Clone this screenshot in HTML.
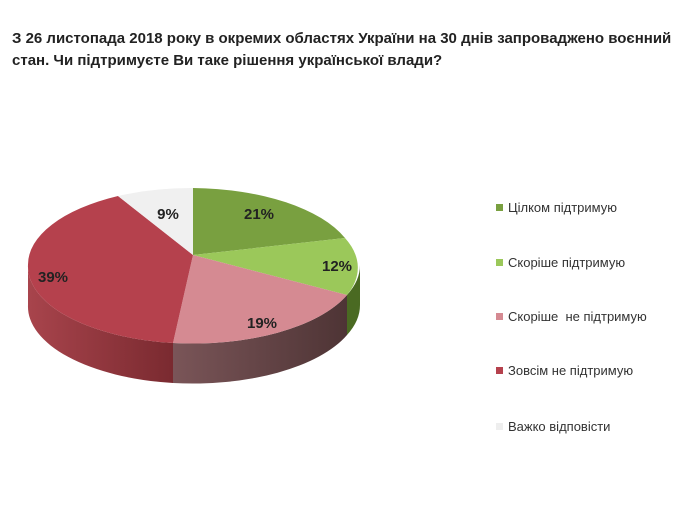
<!DOCTYPE html>
<html><head><meta charset="utf-8"><style>
body{margin:0;width:690px;height:526px;background:#fff;overflow:hidden;font-family:"Liberation Sans",sans-serif}
.t{position:absolute;left:12px;top:28px;font-size:15px;font-weight:bold;color:#222;line-height:22px;width:678px}
.lg{position:absolute;left:496px;font-size:13px;color:#333}
.lg i{display:inline-block;width:7px;height:7px;margin-right:5px;vertical-align:1px}
</style></head><body>
<div class="t">З 26 листопада 2018 року в окремих областях України на 30 днів запроваджено воєнний стан. Чи підтримуєте Ви таке рішення української влади?</div>
<svg width="690" height="526" style="position:absolute;left:0;top:0">
<defs>
<linearGradient id="gr" x1="0" x2="1"><stop offset="0" stop-color="#a8444c"/><stop offset="1" stop-color="#7a2a30"/></linearGradient>
<linearGradient id="gp" x1="0" x2="1"><stop offset="0" stop-color="#7a5558"/><stop offset="1" stop-color="#4e3435"/></linearGradient>
</defs>
<path d="M28,265 A166,77 0 0 0 173,343 L173,383 A166,77 0 0 1 28,305 Z" fill="url(#gr)"/>
<path d="M173,343 A166,77 0 0 0 347,295 L347,335 A166,77 0 0 1 173,383 Z" fill="url(#gp)"/>
<path d="M347,295 A166,77 0 0 0 360,265 L360,305 A166,77 0 0 1 347,335 Z" fill="#4a6a22"/>
<path d="M193,255 L193,188 A166,77 0 0 1 345,238 Z" fill="#79a040"/>
<path d="M193,255 L345,238 A166,77 0 0 1 347,295 Z" fill="#9bc85a"/>
<path d="M193,255 L347,295 A166,77 0 0 1 173,343 Z" fill="#d58a92"/>
<path d="M193,255 L173,343 A166,77 0 0 1 28,265 A166,77 0 0 1 118,196 Z" fill="#b5414d"/>
<path d="M193,255 L118,196 A166,77 0 0 1 193,188 Z" fill="#f0f0f0"/>
<g font-family="Liberation Sans" font-weight="bold" font-size="15" fill="#222" text-anchor="middle">
<text x="259" y="219">21%</text><text x="337" y="271">12%</text><text x="262" y="328">19%</text><text x="53" y="282">39%</text><text x="168" y="219">9%</text>
</g>
</svg>
<div class="lg" style="top:200px"><i style="background:#79a040"></i>Цілком підтримую</div>
<div class="lg" style="top:255px"><i style="background:#9bc85a"></i>Скоріше підтримую</div>
<div class="lg" style="top:309px"><i style="background:#d58a92"></i>Скоріше&nbsp; не підтримую</div>
<div class="lg" style="top:363px"><i style="background:#b5414d"></i>Зовсім не підтримую</div>
<div class="lg" style="top:419px"><i style="background:#eee"></i>Важко відповісти</div>
</body></html>
